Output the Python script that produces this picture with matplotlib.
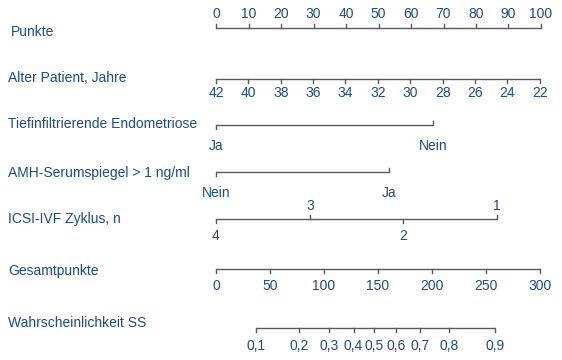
import numpy as np
import matplotlib
matplotlib.use("Agg")
import matplotlib.pyplot as plt

# Data
punkte_ticks = [0, 10, 20, 30, 40, 50, 60, 70, 80, 90, 100]

age_ticks = [42, 40, 38, 36, 34, 32, 30, 28, 26, 24, 22]
age_ends = [42, 22]          # ages at the scale ends
age_end_pts = [0, 99.6]      # points at the scale ends

endo_labels = ["Ja", "Nein"]
endo_pts = [0, 66.9]

amh_labels = ["Nein", "Ja"]
amh_pts = [0, 53.2]

icsi_labels = ["4", "3", "2", "1"]
icsi_pts = [0, 28.9, 57.6, 86.4]

total_ticks = [0, 50, 100, 150, 200, 250, 300]
total_max_pts = 99.7         # 300 total points on the points scale

prob_labels = ["0,1", "0,2", "0,3", "0,4", "0,5", "0,6", "0,7", "0,8", "0,9"]
prob_total = [36.8, 76.9, 104.5, 127.4, 146.4, 166.9, 189.2, 216.1, 258.5]

row_names = ["Punkte", "Alter Patient, Jahre", "Tiefinfiltrierende Endometriose",
             "AMH-Serumspiegel > 1 ng/ml", "ICSI-IVF Zyklus, n", "Gesamtpunkte",
             "Wahrscheinlichkeit SS"]

# Style
plt.rcParams['font.family'] = ['Liberation Sans', 'DejaVu Sans']
text_col = '#1b4c8e'
line_col = '#5a5a5a'
fs = 10

fig = plt.figure(figsize=(5.62, 3.6), dpi=100)
ax = fig.add_axes([0, 0, 1, 1])
# x in points units: pixel = 216 + 3.25 * points
ax.set_xlim(-216 / 3.25, (562 - 216) / 3.25)
ax.set_ylim(360, 0)
ax.axis('off')


def scale(pos, labels, y, label_y, tick_dir, ticks=True):
    # tick_dir: +1 (down) / -1 (up), one per tick or a single int
    pos = np.asarray(pos, dtype=float)
    ax.plot([pos.min(), pos.max()], [y, y], color=line_col, lw=1.0,
            solid_capstyle='butt')
    if np.isscalar(tick_dir):
        tick_dir = [tick_dir] * len(pos)
    if np.isscalar(label_y):
        label_y = [label_y] * len(pos)
    for p, lab, d, ly in zip(pos, labels, tick_dir, label_y):
        if ticks:
            ax.plot([p, p], [y, y + 4 * d], color=line_col, lw=1.0)
        ax.text(p, ly, lab, ha='center', va='center', fontsize=fs, color=text_col)


# Row names
name_x = [11, 8, 8, 8, 8, 8, 8]
name_y = [32, 78, 124.5, 172.5, 218.5, 271, 323]
for nx, ny, nm in zip(name_x, name_y, row_names):
    ax.text(nx / 562, ny, nm, transform=ax.get_yaxis_transform(),
            ha='left', va='center', fontsize=fs, color=text_col)

# Punkte
scale(punkte_ticks, [str(v) for v in punkte_ticks], 28.3, 13.5, -1)

# Alter
age_pts = np.interp(age_ticks, age_ends[::-1], age_end_pts[::-1])
scale(age_pts, [str(v) for v in age_ticks], 78.7, 93, 1)

# Tiefinfiltrierende Endometriose
scale(endo_pts, endo_labels, 124.7, 145.5, [1, -1])

# AMH
scale(amh_pts, amh_labels, 172.3, 193, [1, -1])

# ICSI-IVF
scale(icsi_pts, icsi_labels, 219.3, [236, 205.5, 236, 205.5], [1, -1, 1, -1])

# Gesamtpunkte
tot_pts = np.array(total_ticks) * total_max_pts / 300
scale(tot_pts, [str(v) for v in total_ticks], 268.7, 285.5, 1)

# Wahrscheinlichkeit
prob_pts = np.array(prob_total) * total_max_pts / 300
scale(prob_pts, prob_labels, 327.7, 346.5, 1)

fig.savefig('out.png', dpi=100)
